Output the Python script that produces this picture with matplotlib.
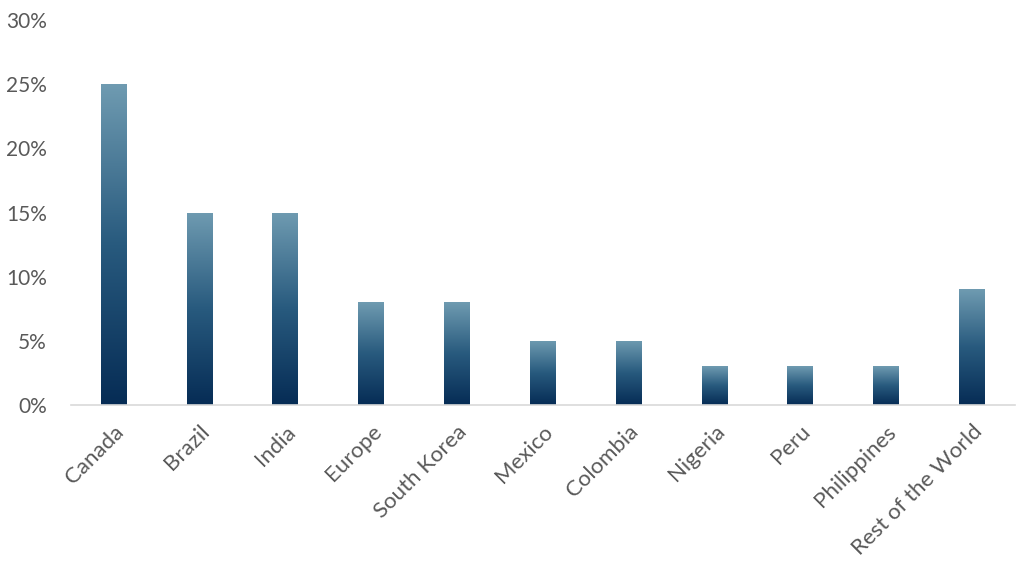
import numpy as np
import matplotlib
matplotlib.use("Agg")
import matplotlib.pyplot as plt
from matplotlib.colors import LinearSegmentedColormap
from matplotlib.ticker import FuncFormatter

categories = ["Canada", "Brazil", "India", "Europe", "South Korea", "Mexico",
              "Colombia", "Nigeria", "Peru", "Philippines", "Rest of the World"]
values = [25, 15, 15, 8, 8, 5, 5, 3, 3, 3, 9]
yticks = [0, 5, 10, 15, 20, 25, 30]

plt.rcParams['font.family'] = ['Lato', 'DejaVu Sans']
text_color = "#595959"

fig = plt.figure(figsize=(10.24, 5.76), dpi=100)
ax = fig.add_axes([0.069, 0.297, 0.922, 0.668])

cmap = LinearSegmentedColormap.from_list("g", ["#062c55", "#285a7e", "#6f9bb1"])
grad = np.linspace(0, 1, 256).reshape(-1, 1)

x = np.arange(len(categories))
width = 0.30
bars = ax.bar(x, values, width=width, color="none", edgecolor="none")
for b in bars:
    x0, y0 = b.get_x(), b.get_y()
    w, h = b.get_width(), b.get_height()
    im = ax.imshow(grad, cmap=cmap, aspect="auto", origin="lower",
                   extent=[x0, x0 + w, y0, y0 + h], zorder=2)
    im.set_clip_path(b)

ax.set_xlim(-0.5, len(categories) - 0.5)
ax.set_ylim(0, 30)
ax.set_yticks(yticks)
ax.yaxis.set_major_formatter(FuncFormatter(lambda v, p: f"{int(v)}%"))
ax.set_xticks(x)
ax.set_xticklabels(categories, rotation=45, ha="right", rotation_mode="anchor")

for s in ["top", "right", "left"]:
    ax.spines[s].set_visible(False)
ax.spines["bottom"].set_color("#d9d9d9")
ax.spines["bottom"].set_linewidth(1.2)
ax.tick_params(axis="both", length=0, colors=text_color)
ax.tick_params(axis="y", pad=17, labelsize=15)
ax.tick_params(axis="x", pad=12, labelsize=16)

fig.savefig("out.png", dpi=100)
